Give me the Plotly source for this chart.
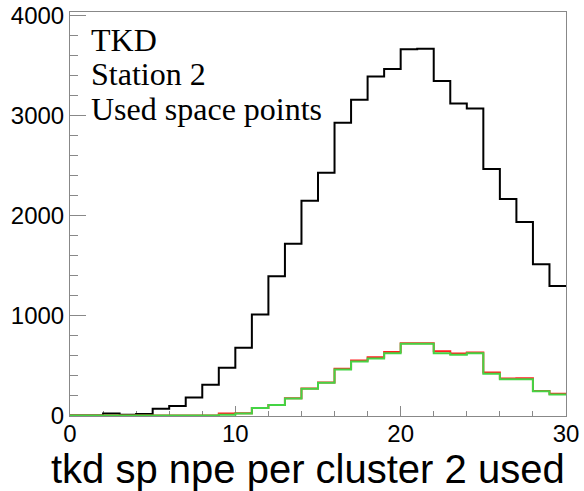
import plotly.graph_objects as go

# Bin edges (unit-width bins from 0 to 30)
bin_edges = list(range(0, 31))

# Counts per bin: all space points, and the two used-point selections
all_points = [0, 0, 20, 7, 15, 67, 93, 180, 307, 477,
              677, 1010, 1393, 1720, 2150, 2430, 2930, 3160, 3393, 3470,
              3667, 3673, 3350, 3123, 3073, 2467, 2167, 1937, 1513, 1297]
used_red = [0, 0, 0, 0, 0, 0, 0, 0, 0, 20,
            22, 75, 105, 172, 270, 330, 466, 550, 583, 636,
            723, 723, 643, 620, 630, 430, 370, 373, 245, 217]
used_green = [0, 0, 0, 0, 0, 0, 0, 0, 0, 7,
              20, 73, 103, 170, 267, 327, 460, 540, 570, 623,
              717, 717, 623, 607, 623, 417, 363, 363, 243, 210]

x_tick_vals = [0, 10, 20, 30]
y_tick_vals = [0, 1000, 2000, 3000, 4000]
label_lines = ["TKD", "Station 2", "Used space points"]
x_title = "tkd sp npe per cluster 2 used"


def step_xy(values):
    xs = list(bin_edges[:-1]) + [bin_edges[-1]]
    ys = list(values) + [values[-1]]
    return xs, ys


fig = go.Figure()
for vals, color in [(all_points, "#000000"), (used_red, "#ff2020"), (used_green, "#44d444")]:
    xs, ys = step_xy(vals)
    fig.add_trace(go.Scatter(x=xs, y=ys, mode="lines", line=dict(shape="hv", color=color, width=2),
                             showlegend=False, hoverinfo="skip"))

axis_common = dict(
    showline=True, linecolor="#888888", linewidth=1, mirror=True,
    showgrid=False, zeroline=False, ticks="inside", tickcolor="#888888",
    tickfont=dict(family="Liberation Sans", size=24, color="#000000"),
    automargin=False, layer="below traces",
)

fig.update_xaxes(range=[0, 30], tickvals=x_tick_vals, ticklen=10, ticklabelstandoff=-4,
                 minor=dict(ticks="inside", ticklen=5, dtick=2, tickcolor="#888888"),
                 **axis_common)
# lower bound a hair below zero so the empty-bin outline stays visible on the frame
fig.update_yaxes(range=[-6, 4040], tickvals=y_tick_vals, ticklen=16,
                 minor=dict(ticks="inside", ticklen=8, dtick=200, tickcolor="#888888"),
                 **axis_common)

plot_left, plot_right = 70, 566.5
plot_top, plot_bottom = 12, 416.5


def paper_x(px):
    return (px - plot_left) / (plot_right - plot_left)


def paper_y(py):
    return (plot_bottom - py) / (plot_bottom - plot_top)


annotations = []
for i, line in enumerate(label_lines):
    annotations.append(dict(
        text=line, xref="paper", yref="paper", x=paper_x(89), y=paper_y(40 + 34.5 * i),
        xanchor="left", yanchor="middle", showarrow=False,
        font=dict(family="Liberation Serif", size=32, color="#000000")))
annotations.append(dict(
    text=x_title, xref="paper", yref="paper", x=paper_x(568), y=paper_y(470),
    xanchor="right", yanchor="middle", showarrow=False,
    font=dict(family="Liberation Sans", size=40, color="#000000")))

fig.update_layout(
    width=584, height=491,
    margin=dict(l=plot_left, r=584 - plot_right, t=plot_top, b=491 - plot_bottom),
    plot_bgcolor="#ffffff", paper_bgcolor="#ffffff",
    annotations=annotations,
)

fig.write_html("out.html")
